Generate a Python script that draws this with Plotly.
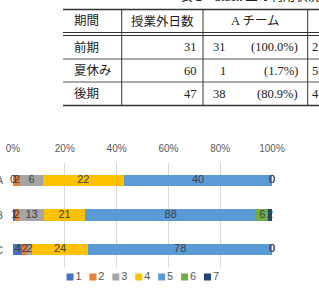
import numpy as np
import plotly.graph_objects as go

# ---------------- data ----------------
# table
table_header = ["期間", "授業外日数", "A チーム"]
periods = ["前期", "夏休み", "後期"]
days = [31, 60, 47]
team_a_counts = [31, 1, 38]
team_b_lead = ["2", "5", "4"]   # only leading digit visible (cut off)
caption = "表 2　Slack 上の利用状況"

# stacked bar chart
categories = ["A", "B", "C"]
series_names = ["1", "2", "3", "4", "5", "6", "7"]
s1 = [0, 1, 4]
s2 = [2, 2, 2]
s3 = [6, 13, 2]
s4 = [22, 21, 24]
s5 = [40, 88, 78]
s6 = [0, 6, 0]
s7 = [0, 2, 0]
series_values = [s1, s2, s3, s4, s5, s6, s7]
x_ticks = [0, 20, 40, 60, 80, 100]
x_tick_text = ["0%", "20%", "40%", "60%", "80%", "100%"]

# ---------------- style ----------------
colors = ["#4472C4", "#ED7D31", "#A5A5A5", "#FFC000", "#5B9BD5", "#70AD47", "#264478"]
W, H = 319, 290
SERIF = "Liberation Serif, Noto Sans CJK JP, serif"
SANS = "Liberation Sans, Noto Sans CJK JP, sans-serif"


def px(x):
    return x / W


def py(y):
    return 1 - y / H


fig = go.Figure()

# bars (normalised to percent)
vals = np.array(series_values, dtype=float)
totals = vals.sum(axis=0)
pct = vals / totals * 100
cum = np.cumsum(pct, axis=0)
mid = cum - pct / 2

for i, name in enumerate(series_names):
    fig.add_trace(go.Bar(
        name=name, y=categories, x=series_values[i], orientation="h",
        marker=dict(color=colors[i], line=dict(width=0)),
        hoverinfo="skip", showlegend=False,
    ))

for i, name in enumerate(series_names):
    fig.add_trace(go.Scatter(
        x=mid[i], y=categories, mode="text",
        text=[str(v) for v in series_values[i]],
        textfont=dict(family=SANS, size=11, color="#404040"),
        showlegend=False, hoverinfo="skip", cliponaxis=False,
    ))

# legend drawn on its own small axis: one square + name per series
fig.add_trace(go.Scatter(
    x=list(range(len(series_names))), y=[0] * len(series_names),
    mode="markers+text", text=series_names, textposition="middle right",
    marker=dict(symbol="square", size=7, color=colors),
    textfont=dict(family=SANS, size=11, color="#595959"),
    xaxis="x2", yaxis="y2", showlegend=False, hoverinfo="skip", cliponaxis=False,
))

fig.update_layout(
    width=W, height=H,
    margin=dict(l=0, r=0, t=0, b=0),
    paper_bgcolor="white", plot_bgcolor="white",
    barmode="stack", barnorm="percent", bargap=0.68,
    showlegend=False,
    xaxis=dict(domain=[px(13), px(272)], range=[0, 100], side="top",
               tickvals=x_ticks, ticktext=x_tick_text,
               showgrid=True, gridcolor="#D9D9D9", gridwidth=1,
               zeroline=False, showline=False, automargin=False,
               tickfont=dict(family=SANS, size=10, color="#595959"),
               ticklabelstandoff=8),
    yaxis=dict(domain=[py(267), py(163)], autorange="reversed",
               type="category", showgrid=False, zeroline=False, showline=False,
               automargin=False,
               tickfont=dict(family=SANS, size=11, color="#595959"),
               ticklabelstandoff=9),
    xaxis2=dict(domain=[px(70), px(207.5)], range=[0, 6], visible=False,
                anchor="y2", fixedrange=True),
    yaxis2=dict(domain=[py(283), py(271)], range=[-1, 1], visible=False,
                anchor="x2", fixedrange=True),
)

# ---------------- table ----------------
col_edges = [63, 121.7, 203, 307.7]
x_end = 319
top_rule, head_rule1, head_rule2, bottom_rule = 9.5, 32.5, 35.5, 105.5
row_rules = [59, 82]
header_y = 21
row_y = [47.5, 70.5, 94]

shapes = []
def hline(y, w, c="#333333"):
    shapes.append(dict(type="line", xref="paper", yref="paper",
                       x0=px(col_edges[0]), x1=px(x_end), y0=py(y), y1=py(y),
                       line=dict(color=c, width=w)))

hline(top_rule, 1.3)
hline(head_rule1, 1.0)
hline(head_rule2, 1.0)
for r in row_rules:
    hline(r, 1.0, "#555555")
hline(bottom_rule, 1.3)
for xe in col_edges[1:]:
    shapes.append(dict(type="line", xref="paper", yref="paper",
                       x0=px(xe), x1=px(xe), y0=py(top_rule), y1=py(bottom_rule),
                       line=dict(color="#333333", width=1)))
fig.update_layout(shapes=shapes)

tfont = dict(family=SERIF, size=12.5, color="#222222")
ann = []
def txt(x, y, s, anchor):
    ann.append(dict(xref="paper", yref="paper", x=px(x), y=py(y), text=s,
                    showarrow=False, xanchor=anchor, yanchor="middle", font=tfont))

txt(72, header_y, table_header[0], "left")
txt((col_edges[1] + col_edges[2]) / 2, header_y, table_header[1], "center")
txt((col_edges[2] + col_edges[3]) / 2, header_y, table_header[2], "center")
for i, p in enumerate(periods):
    txt(72, row_y[i], p, "left")
    txt(199, row_y[i], str(days[i]), "right")
    txt(228, row_y[i], str(team_a_counts[i]), "right")
    txt(300, row_y[i], "(%.1f%%)" % (team_a_counts[i] / days[i] * 100), "right")
    txt(310, row_y[i], team_b_lead[i], "left")

ann.append(dict(xref="paper", yref="paper", x=px(250), y=py(6.5), text=caption,
                showarrow=False, xanchor="center", yanchor="bottom", font=tfont))
fig.update_layout(annotations=ann)

fig.write_html("out.html")
